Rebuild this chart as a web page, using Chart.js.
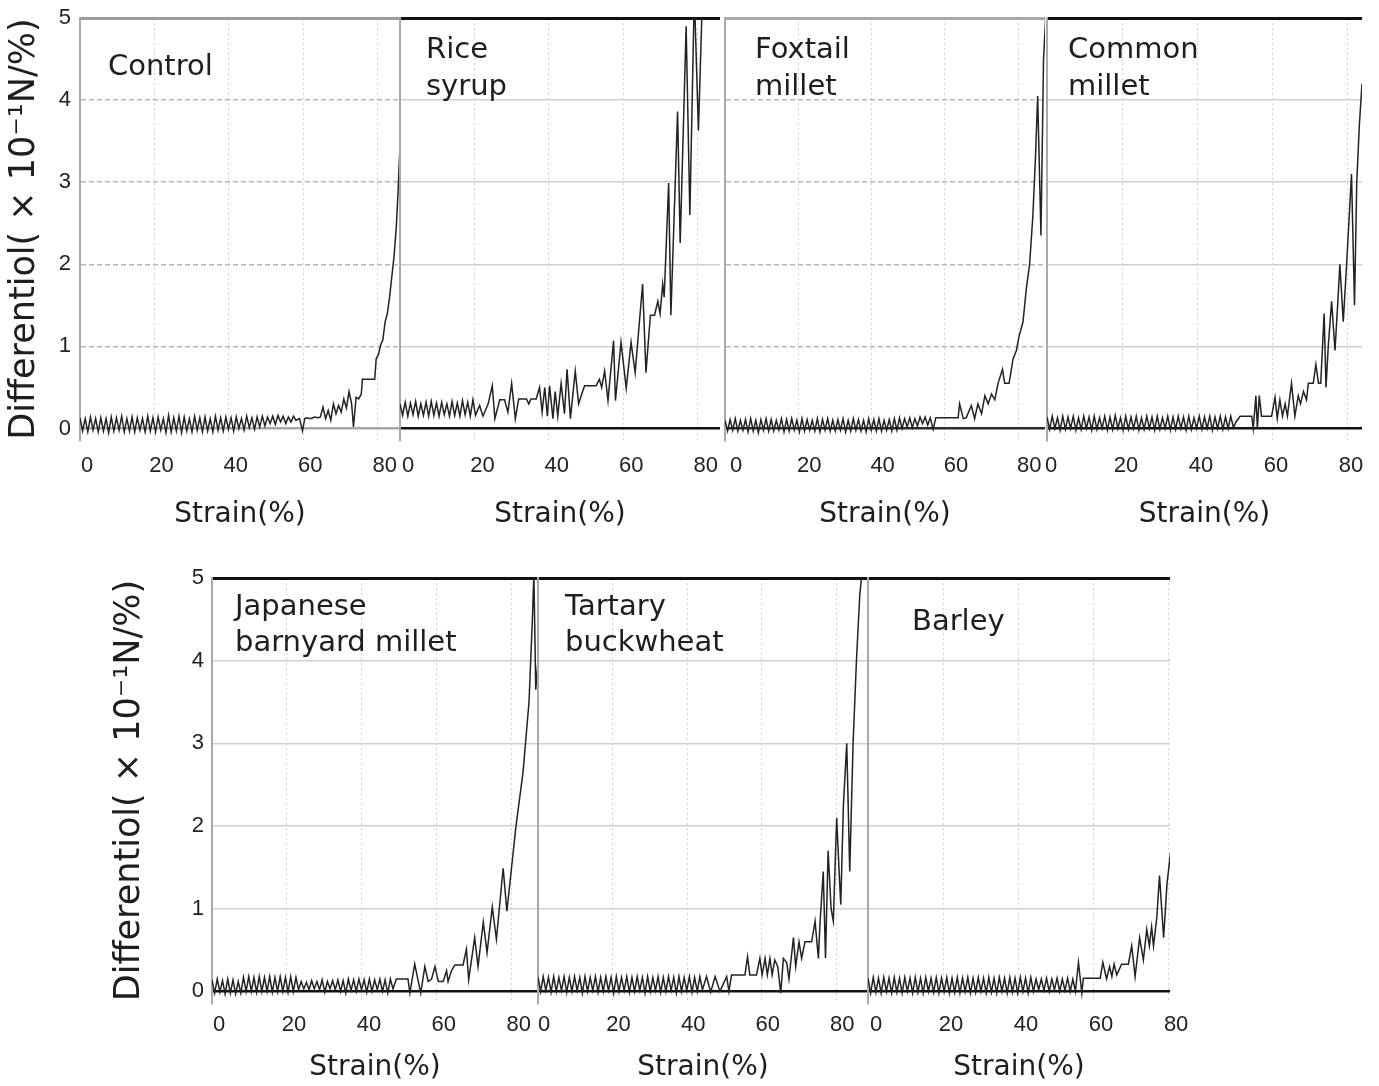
<!DOCTYPE html>
<html>
<head>
<meta charset="utf-8">
<script src="https://cdn.jsdelivr.net/npm/chart.js"></script>
<style>
  body { margin: 0; background: #fff; }
  #wrap { position: relative; width: 1379px; height: 1086px; overflow: hidden; background: #fff; }
  canvas { position: absolute; }
</style>
</head>
<body>
<div id="wrap">
  <canvas id="control"></canvas>
  <canvas id="rice"></canvas>
  <canvas id="foxtail"></canvas>
  <canvas id="common"></canvas>
  <canvas id="japanese"></canvas>
  <canvas id="tartary"></canvas>
  <canvas id="barley"></canvas>
</div>
<script>
// strain sampling used for the low, oscillating part of every curve
const baseStrain = [
  0, 0.7, 1.4, 2.1, 2.8, 3.5, 4.2, 4.9, 5.6, 6.3,
  7, 7.7, 8.4, 9.1, 9.8, 10.5, 11.2, 11.9, 12.6, 13.3,
  14, 14.7, 15.4, 16.1, 16.8, 17.5, 18.2, 18.9, 19.6, 20.3,
  21, 21.7, 22.4, 23.1, 23.8, 24.5, 25.2, 25.9, 26.6, 27.3,
  28, 28.7, 29.4, 30.1, 30.8, 31.5, 32.2, 32.9, 33.6, 34.3,
  35, 35.7, 36.4, 37.1, 37.8, 38.5, 39.2, 39.9, 40.6, 41.3,
  42, 42.7, 43.4, 44.1, 44.8, 45.5, 46.2, 46.9, 47.6, 48.3,
  49, 49.7, 50.4, 51.1, 51.8, 52.5, 53.2, 53.9, 54.6, 55.3,
  56
];

const xTickValues = [0, 20, 40, 60, 80];
const yTickValues = [0, 1, 2, 3, 4, 5];

// Control
const controlBase = [
  0.13, -0.03, 0.12, -0.04, 0.14, -0.02, 0.12, -0.04, 0.13, -0.03,
  0.12, -0.05, 0.14, -0.03, 0.13, -0.02, 0.15, -0.04, 0.12, -0.03,
  0.14, -0.04, 0.13, -0.02, 0.12, -0.04, 0.15, -0.03, 0.13, -0.04,
  0.14, -0.02, 0.12, -0.05, 0.16, -0.04, 0.13, -0.03, 0.15, -0.05,
  0.14, -0.03, 0.12, -0.04, 0.15, -0.02, 0.13, -0.04, 0.14, -0.03,
  0.12, -0.04, 0.15, -0.02, 0.13, -0.03, 0.14, -0.01, 0.13, -0.03,
  0.14, 0.0, 0.12, -0.02, 0.15, 0.01, 0.13, -0.01, 0.14, 0.02,
  0.15, 0.03, 0.14, 0.06, 0.15, 0.05, 0.16, 0.08, 0.15, 0.06,
  0.14
];
const controlTailStrain = [56.7, 57.4, 58, 59, 59.8, 60.4, 61, 62, 63, 64,
  64.6, 65.3, 66, 66.7, 67.4, 68.1, 68.8, 69.5, 70.2, 70.9,
  71.6, 72.3, 73, 73.5, 74.2, 74.9, 75.6, 75.9, 79.2, 79.6,
  80.2, 80.8, 81.4, 82, 82.6, 83.2, 83.8, 84.4, 85, 85.5, 86];
const controlTail = [0.08, 0.15, 0.1, 0.12, -0.03, 0.12, 0.13, 0.12, 0.14, 0.13,
  0.14, 0.26, 0.12, 0.22, 0.1, 0.3, 0.18, 0.28, 0.2, 0.36,
  0.25, 0.45, 0.3, 0.02, 0.38, 0.36, 0.42, 0.6, 0.6, 0.85,
  0.9, 1.02, 1.08, 1.3, 1.4, 1.6, 1.85, 2.1, 2.45, 2.9, 3.45];

// Rice syrup
const riceBase = [0.3, 0.16, 0.32, 0.15, 0.31, 0.17, 0.33, 0.15, 0.3, 0.16,
  0.32, 0.15, 0.33, 0.16, 0.31, 0.15, 0.32, 0.17, 0.3, 0.15,
  0.33, 0.16, 0.31, 0.15, 0.34, 0.17, 0.32, 0.15, 0.35];
const riceTailStrain = [20.3, 21.4, 22.3, 23.7, 24.8, 25.5, 26.8, 28.1, 29, 30,
  31, 31.9, 34, 34.6, 35.2, 36.6, 37.5, 38.2, 38.9, 39.6,
  40.2, 41.1, 41.7, 42.4, 43.3, 44.2, 44.9, 45.8, 47.1, 48,
  48.7, 49.6, 52.7, 53.6, 54.2, 55, 55.9, 57.4, 57.9, 59.4,
  60.8, 62.1, 63.2, 65.2, 66.1, 67.3, 68.4, 69.3, 69.9, 70.6,
  71, 72.2, 72.8, 74.6, 75.3, 76.9, 77.9, 79.1, 80.2, 81.3, 82];
const riceTail = [0.16, 0.28, 0.15, 0.3, 0.52, 0.12, 0.35, 0.35, 0.2, 0.55,
  0.12, 0.36, 0.36, 0.3, 0.36, 0.36, 0.5, 0.2, 0.5, 0.15,
  0.52, 0.12, 0.45, 0.15, 0.55, 0.18, 0.72, 0.12, 0.7, 0.3,
  0.4, 0.52, 0.52, 0.6, 0.5, 0.7, 0.34, 1.07, 0.34, 1.05,
  0.49, 1.05, 0.68, 1.76, 0.68, 1.38, 1.38, 1.55, 1.4, 1.76,
  1.6, 2.99, 1.38, 3.86, 2.26, 4.9, 2.6, 5.3, 3.63, 5.3, 6];

// Foxtail millet
const foxtailBase = [
  0.1, -0.03, 0.11, -0.02, 0.12, -0.03, 0.1, -0.02, 0.11, -0.04,
  0.12, -0.03, 0.1, -0.05, 0.11, -0.02, 0.12, -0.03, 0.11, -0.03,
  0.1, -0.02, 0.12, -0.04, 0.11, -0.03, 0.12, -0.02, 0.1, -0.04,
  0.12, -0.03, 0.11, -0.02, 0.1, -0.03, 0.12, -0.04, 0.11, -0.02,
  0.12, -0.03, 0.1, -0.03, 0.11, -0.02, 0.12, -0.04, 0.1, -0.03,
  0.12, -0.02, 0.11, -0.03, 0.1, -0.04, 0.12, -0.02, 0.11, -0.03,
  0.12, -0.03, 0.1, -0.02, 0.11, -0.03, 0.12, -0.02, 0.13, 0.0,
  0.12, 0.02, 0.13, 0.01
];
const foxtailTailStrain = [51.8, 52.5, 53.2, 53.9, 54.6, 55.3, 56, 56.8, 57.5, 63.6,
  64, 65, 65.8, 67.2, 68.1, 69, 70, 70.9, 71.8, 72.7,
  73.6, 74.5, 75.7, 76.3, 77.5, 78.6, 79.5, 80.2, 81.3, 82.2,
  83.1, 84, 84.7, 85.3, 86.2, 86.9, 87.7];
const foxtailTail = [0.12, 0.03, 0.14, 0.06, 0.14, 0.04, 0.13, -0.01, 0.13, 0.13,
  0.3, 0.12, 0.13, 0.28, 0.12, 0.3, 0.18, 0.4, 0.3, 0.42,
  0.35, 0.55, 0.72, 0.55, 0.55, 0.85, 0.95, 1.12, 1.3, 1.7,
  2.0, 2.6, 3.3, 4.05, 2.35, 4.5, 5.2];

// Common millet
const commonBase = [
  0.14, -0.01, 0.15, 0.0, 0.13, -0.02, 0.15, -0.01, 0.14, 0.0,
  0.15, -0.02, 0.13, -0.01, 0.15, 0.0, 0.14, -0.02, 0.15, -0.01,
  0.13, 0.0, 0.15, -0.02, 0.14, -0.01, 0.16, 0.0, 0.13, -0.02,
  0.15, -0.01, 0.14, 0.0, 0.15, -0.02, 0.13, -0.01, 0.15, 0.0,
  0.14, -0.02, 0.15, -0.01, 0.13, 0.0, 0.15, -0.02, 0.14, -0.01,
  0.15, 0.0, 0.14, -0.02, 0.15, -0.01, 0.13, 0.0, 0.15, -0.01,
  0.14, 0.0, 0.15, -0.02, 0.14, 0.0, 0.15, -0.01, 0.14, 0.0,
  0.15, 0.01
];
const commonTailStrain = [50.4, 51.5, 54.6, 55, 55.7, 56.1, 56.6, 57.2, 59.9, 60.8,
  61.4, 62.1, 62.8, 63.5, 64.1, 65.2, 66.1, 67, 67.6, 68.4,
  69.2, 69.7, 71, 71.7, 72.4, 73, 73.9, 74.4, 75, 75.9,
  76.8, 77.5, 78.1, 79, 79.9, 81.2, 82, 82.6, 83.3, 84];
const commonTail = [0.08, 0.15, 0.15, 0.0, 0.4, 0.0, 0.4, 0.15, 0.15, 0.38,
  0.12, 0.35, 0.15, 0.3, 0.15, 0.55, 0.15, 0.4, 0.3, 0.45,
  0.35, 0.55, 0.55, 0.78, 0.55, 0.55, 1.4, 0.5, 1.0, 1.55,
  0.95, 1.5, 2.0, 1.3, 2.0, 3.1, 1.5, 3.0, 3.7, 4.2];

// Japanese barnyard millet
const japaneseBase = [
  0.14, -0.02, 0.15, -0.01, 0.13, -0.03, 0.15, -0.02, 0.14, -0.03,
  0.12, -0.02, 0.17, 0.0, 0.18, 0.0, 0.17, -0.01, 0.18, 0.0,
  0.17, 0.0, 0.18, -0.01, 0.17, 0.0, 0.18, 0.0, 0.17, -0.01,
  0.18, 0.0, 0.17, 0.02, 0.12, 0.03, 0.11, 0.02, 0.13, 0.03,
  0.12, 0.02, 0.14, -0.01, 0.12, 0.03, 0.13, 0.02, 0.14, 0.0,
  0.13, -0.02, 0.15, 0.01, 0.14, 0.0, 0.15, 0.02, 0.14, -0.01,
  0.15, 0.0, 0.14, 0.02, 0.15, 0.0, 0.14, -0.02, 0.15, 0.03
];
const japaneseTailStrain = [49.2, 52.3, 52.8, 54.1, 55.7, 56.8, 57.7, 58.6, 59.5, 60.4,
  61.7, 62.6, 63, 63.9, 64.8, 67, 67.9, 68.5, 70.1, 71,
  72.4, 73.4, 74.8, 75.9, 77.7, 78.7, 81.1, 83, 84.6, 85.5,
  85.9, 86.4, 87];
const japaneseTail = [0.15, 0.15, -0.02, 0.33, -0.02, 0.3, 0.12, 0.15, 0.3, 0.12,
  0.12, 0.25, 0.12, 0.25, 0.32, 0.32, 0.51, 0.14, 0.65, 0.3,
  0.84, 0.47, 1.02, 0.63, 1.49, 0.97, 1.99, 2.65, 3.5, 4.5,
  5.05, 3.65, 4.0];

// Tartary buckwheat
const tartaryBase = [
  0.17, 0.0, 0.18, 0.01, 0.17, -0.01, 0.18, 0.0, 0.17, 0.01,
  0.18, -0.01, 0.17, 0.0, 0.18, 0.01, 0.17, -0.02, 0.18, 0.0,
  0.17, 0.01, 0.18, -0.01, 0.17, 0.0, 0.18, 0.01, 0.17, -0.02,
  0.18, 0.0, 0.17, 0.01, 0.18, -0.01, 0.17, 0.0, 0.18, 0.01,
  0.17, -0.02, 0.18, 0.0, 0.17, 0.01, 0.18, -0.01, 0.17, 0.0,
  0.18, 0.01, 0.17, -0.02, 0.18, 0.0, 0.17, 0.01, 0.18, -0.01,
  0.17, 0.0, 0.18
];
const tartaryTailStrain = [44.1, 45.2, 46.3, 47.5, 48.8, 50.6, 51.2, 51.9,
  55.5, 56.2, 56.8, 58.6, 59.5, 60.1, 60.9, 61.5, 62.2, 62.8,
  63.5, 64.3, 65.1, 65.8, 66.7, 67.3, 68.5, 69.1, 70, 70.7,
  71.6, 73.4, 74.3, 75.2, 75.6, 76.5, 77.1, 77.8, 78.6, 79.2,
  80.1, 80.7, 81.2, 81.9, 82.8, 83.6, 84.5, 85.4, 86.3, 87.2];
const tartaryTail = [0.02, 0.18, -0.01, 0.18, 0.0, 0.18, 0.0, 0.2,
  0.2, 0.42, 0.2, 0.2, 0.4, 0.2, 0.4, 0.2, 0.4, 0.2,
  0.38, 0.3, -0.02, 0.4, 0.35, 0.15, 0.65, 0.3, 0.6, 0.4,
  0.6, 0.6, 0.85, 0.4, 0.8, 1.45, 0.4, 1.7, 1.0, 0.85,
  2.1, 1.5, 1.05, 2.25, 3.0, 1.45, 3.0, 4.0, 4.8, 5.2];

// Barley
const barleyBase = [
  0.16, -0.02, 0.17, -0.01, 0.16, -0.02, 0.17, 0.0, 0.16, -0.02,
  0.17, -0.01, 0.16, -0.02, 0.17, 0.0, 0.16, -0.02, 0.17, -0.01,
  0.16, -0.02, 0.17, 0.0, 0.16, -0.01, 0.17, -0.02, 0.16, 0.0,
  0.17, -0.02, 0.16, -0.01, 0.17, -0.02, 0.16, 0.0, 0.17, -0.02,
  0.16, -0.01, 0.17, 0.0, 0.16, -0.02, 0.17, -0.01, 0.16, -0.02,
  0.17, 0.0, 0.16, -0.02, 0.17, -0.01, 0.16, -0.02, 0.17, 0.0,
  0.16, -0.02, 0.17, 0.0, 0.15, 0.02, 0.15, 0.01, 0.16, 0.0,
  0.15, 0.02, 0.16, 0.0, 0.15, 0.01, 0.16
];
const barleyTailStrain = [53.9, 54.6, 55.3, 56.1, 57, 57.4, 61.9, 62.6, 63.6, 64.4,
  65, 65.6, 66.3, 67.6, 69.4, 70.3, 71.2, 72.4, 73.4, 74.3,
  75, 75.6, 76.1, 77, 77.7, 78.8, 79.7, 80.7];
const barleyTail = [0.0, 0.15, 0.0, 0.35, -0.02, 0.16, 0.16, 0.35, 0.15, 0.3,
  0.18, 0.33, 0.2, 0.33, 0.33, 0.55, 0.18, 0.65, 0.38, 0.75,
  0.55, 0.78, 0.55, 0.9, 1.4, 0.65, 1.3, 1.7];

function series(base, tailStrain, tail) {
  const xs = baseStrain.slice(0, base.length).concat(tailStrain);
  const ys = base.concat(tail);
  return xs.map((x, i) => ({ x: x, y: ys[i] }));
}

const rows = {
  top: { plotTop: 18, plotBottom: 440, axisBottom: 540, tickPad: 13, titlePad: 8, lineGap: 37 },
  bottom: { plotTop: 578, plotBottom: 1003, axisBottom: 1086, tickPad: 9, titlePad: 1, lineGap: 36 }
};

const panels = [
  { id: 'control', row: 'top', left: 80, right: 400, xMax: 86, yAxisWidth: 80, yTitlePad: 4, yTickPad: 9,
    label: ['Control'], dx: 28, dy: 49, frameTop: '#9c9c9c', frameZero: '#a8a8a8', dashed: true, labelOffset: 7,
    points: series(controlBase, controlTailStrain, controlTail) },
  { id: 'rice', row: 'top', left: 400, right: 720, xMax: 86,
    label: ['Rice', 'syrup'], dx: 26, dy: 32, frameTop: '#111', frameZero: '#111', labelOffset: 8,
    points: series(riceBase, riceTailStrain, riceTail) },
  { id: 'foxtail', row: 'top', left: 725, right: 1045, xMax: 87.3,
    label: ['Foxtail', 'millet'], dx: 30, dy: 32, frameTop: '#a8a8a8', frameZero: '#2a2a2a', dashed: true, labelOffset: 11,
    points: series(foxtailBase, foxtailTailStrain, foxtailTail) },
  { id: 'common', row: 'top', left: 1047, right: 1362, xMax: 84, padRight: 16,
    label: ['Common', 'millet'], dx: 21, dy: 32, frameTop: '#111', frameZero: '#111', labelOffset: 4,
    points: series(commonBase, commonTailStrain, commonTail) },
  { id: 'japanese', row: 'bottom', left: 212, right: 538, xMax: 87, yAxisWidth: 112, yTitlePad: 9, yTickPad: 8,
    label: ['Japanese', 'barnyard millet'], dx: 23, dy: 29, frameTop: '#111', frameZero: '#111', labelOffset: 7,
    points: series(japaneseBase, japaneseTailStrain, japaneseTail) },
  { id: 'tartary', row: 'bottom', left: 538, right: 868, xMax: 88.5,
    label: ['Tartary', 'buckwheat'], dx: 27, dy: 29, frameTop: '#111', frameZero: '#111', labelOffset: 6,
    points: series(tartaryBase, tartaryTailStrain, tartaryTail) },
  { id: 'barley', row: 'bottom', left: 868, right: 1170, xMax: 80.5, padRight: 34,
    label: ['Barley'], dx: 44, dy: 44, frameTop: '#111', frameZero: '#111', labelOffset: 8,
    points: series(barleyBase, barleyTailStrain, barleyTail) }
];

// sample name written inside the plot area
const panelLabel = {
  id: 'panelLabel',
  afterDatasetsDraw(chart, args, opts) {
    const { ctx, chartArea } = chart;
    ctx.save();
    ctx.font = '29px "DejaVu Sans"';
    ctx.fillStyle = '#1e1e1e';
    ctx.textBaseline = 'middle';
    ctx.textAlign = 'left';
    opts.lines.forEach((t, i) => {
      ctx.fillText(t, chartArea.left + opts.dx, chartArea.top + opts.dy + i * opts.gap);
    });
    ctx.restore();
  }
};

function tickValue(c) {
  return c && c.tick ? c.tick.value : null;
}

function makePanel(p) {
  const row = rows[p.row];
  const yW = p.yAxisWidth || 20;
  const padTop = 14;
  const padRight = p.padRight || 6;
  const xAxisH = row.axisBottom - row.plotBottom;
  const w = yW + (p.right - p.left) + padRight;
  const h = padTop + (row.plotBottom - row.plotTop) + xAxisH;
  const canvas = document.getElementById(p.id);
  canvas.width = w;
  canvas.height = h;
  canvas.style.width = w + 'px';
  canvas.style.height = h + 'px';
  canvas.style.left = (p.left - yW) + 'px';
  canvas.style.top = (row.plotTop - padTop) + 'px';
  const showY = !!p.yAxisWidth;

  new Chart(canvas, {
    type: 'line',
    data: {
      datasets: [{
        data: p.points,
        borderColor: '#222',
        borderWidth: 1.5,
        pointRadius: 0,
        tension: 0,
        fill: false
      }]
    },
    options: {
      responsive: false,
      animation: false,
      devicePixelRatio: 1,
      layout: { padding: { top: padTop, right: padRight, left: 0, bottom: 0 } },
      plugins: {
        legend: { display: false },
        tooltip: { enabled: false },
        panelLabel: { lines: p.label, dx: p.dx, dy: p.dy, gap: row.lineGap }
      },
      scales: {
        x: {
          type: 'linear',
          min: 0,
          max: p.xMax,
          afterBuildTicks: (axis) => { axis.ticks = xTickValues.map(v => ({ value: v })); },
          afterFit: (s) => { s.height = xAxisH; s.paddingLeft = 0; s.paddingRight = 0; },
          grid: {
            drawTicks: false,
            lineWidth: 1,
            color: (c) => tickValue(c) === 0 ? 'rgba(0,0,0,0)' : '#d2d2d2'
          },
          border: { display: false, dash: [2, 3] },
          ticks: {
            font: { family: 'Liberation Sans', size: 22 },
            color: '#222',
            padding: row.tickPad,
            labelOffset: p.labelOffset,
            maxRotation: 0
          },
          title: {
            display: true,
            text: 'Strain(%)',
            font: { family: 'DejaVu Sans', size: 28 },
            color: '#1e1e1e',
            padding: { top: 0, bottom: row.titlePad }
          }
        },
        y: {
          min: -0.14,
          max: 5,
          afterBuildTicks: (axis) => { axis.ticks = yTickValues.map(v => ({ value: v })); },
          afterFit: (s) => { s.width = yW; s.paddingTop = 0; s.paddingBottom = 0; },
          grid: {
            drawTicks: false,
            color: (c) => {
              const v = tickValue(c);
              if (v === 5) return p.frameTop;
              if (v === 0) return p.frameZero;
              return p.dashed ? '#b8b8b8' : '#cfcfcf';
            },
            lineWidth: (c) => {
              const v = tickValue(c);
              if (v === 5) return 3;
              if (v === 0) return 2.5;
              return 1.5;
            }
          },
          border: {
            display: true,
            color: '#a9a9a9',
            width: 2,
            dash: (c) => {
              const v = tickValue(c);
              return p.dashed && v !== 0 && v !== 5 ? [5, 3] : [];
            }
          },
          ticks: {
            display: showY,
            font: { family: 'Liberation Sans', size: 22 },
            color: '#222',
            padding: p.yTickPad || 8
          },
          title: {
            display: showY,
            text: 'Differentiol( × 10⁻¹N/%)',
            font: { family: 'DejaVu Sans', size: 35 },
            color: '#1e1e1e',
            padding: { top: p.yTitlePad || 0, bottom: 0 }
          }
        }
      }
    },
    plugins: [panelLabel]
  });
}

panels.forEach(makePanel);
</script>
</body>
</html>
